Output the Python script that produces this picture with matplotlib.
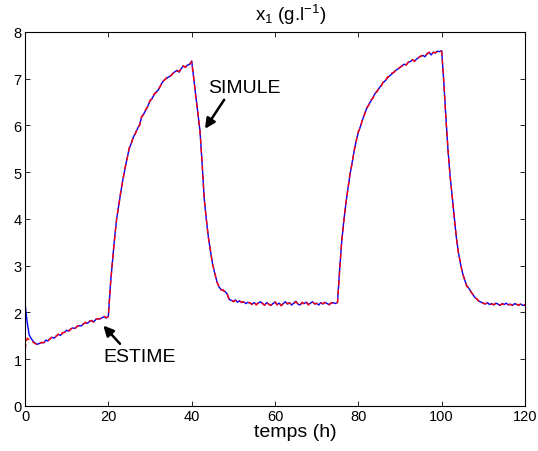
import numpy as np
import matplotlib
matplotlib.use("Agg")
import matplotlib.pyplot as plt

plt.rcParams['font.family'] = ['Liberation Sans', 'DejaVu Sans']
plt.rcParams['mathtext.fontset'] = 'custom'
plt.rcParams['mathtext.rm'] = 'Liberation Sans'
plt.rcParams['mathtext.it'] = 'Liberation Sans:italic'

# time grid (h), one sample every half hour
t_start, t_end, t_step = 0.0, 120.0, 0.5

# simulated x1 (blue, solid)
x1_simule = [
    2.20, 1.80, 1.52, 1.44, 1.38, 1.34, 1.32, 1.34, 1.36, 1.35,
    1.41, 1.39, 1.44, 1.47, 1.45, 1.50, 1.53, 1.51, 1.56, 1.58,
    1.62, 1.60, 1.65, 1.67, 1.66, 1.70, 1.72, 1.71, 1.76, 1.78,
    1.77, 1.81, 1.83, 1.80, 1.85, 1.87, 1.86, 1.89, 1.91, 1.88,
    1.92, 2.60, 3.10, 3.60, 4.00, 4.30, 4.58, 4.85, 5.08, 5.30,
    5.50, 5.62, 5.75, 5.84, 5.93, 6.02, 6.18, 6.25, 6.33, 6.42,
    6.52, 6.58, 6.66, 6.72, 6.76, 6.85, 6.93, 6.98, 7.01, 7.04,
    7.06, 7.12, 7.15, 7.18, 7.14, 7.22, 7.27, 7.25, 7.29, 7.31,
    7.38, 7.00, 6.62, 6.25, 5.88, 5.20, 4.45, 4.00, 3.62, 3.32,
    3.05, 2.85, 2.68, 2.55, 2.50, 2.47, 2.45, 2.40, 2.28, 2.26,
    2.24, 2.27, 2.22, 2.25, 2.21, 2.23, 2.19, 2.22, 2.20, 2.18,
    2.21, 2.17, 2.20, 2.23, 2.19, 2.16, 2.21, 2.18, 2.15, 2.19,
    2.22, 2.17, 2.20, 2.15, 2.19, 2.23, 2.18, 2.21, 2.16, 2.20,
    2.24, 2.18, 2.16, 2.21, 2.19, 2.22, 2.17, 2.20, 2.23, 2.18,
    2.20, 2.16, 2.21, 2.18, 2.22, 2.19, 2.17, 2.20, 2.21, 2.19,
    2.22, 2.90, 3.50, 3.95, 4.32, 4.65, 4.95, 5.20, 5.45, 5.68,
    5.85, 5.98, 6.12, 6.25, 6.36, 6.45, 6.52, 6.60, 6.68, 6.74,
    6.80, 6.86, 6.92, 6.96, 7.02, 7.06, 7.10, 7.14, 7.18, 7.21,
    7.24, 7.28, 7.31, 7.30, 7.35, 7.37, 7.40, 7.38, 7.42, 7.46,
    7.48, 7.50, 7.47, 7.54, 7.56, 7.51, 7.57, 7.55, 7.59, 7.58,
    7.60, 6.95, 6.20, 5.50, 4.95, 4.50, 4.05, 3.62, 3.30, 3.05,
    2.85, 2.70, 2.58, 2.52, 2.45, 2.38, 2.32, 2.28, 2.24, 2.22,
    2.20, 2.18, 2.21, 2.17, 2.19, 2.16, 2.20, 2.18, 2.15, 2.19,
    2.17, 2.20, 2.16, 2.18, 2.15, 2.19, 2.17, 2.16, 2.18, 2.15,
    2.16,
]

# estimated x1 (red, dashed)
x1_estime = [
    1.20, 1.45, 1.42, 1.40, 1.36, 1.33, 1.31, 1.35, 1.35, 1.36,
    1.40, 1.40, 1.43, 1.48, 1.46, 1.49, 1.54, 1.50, 1.57, 1.57,
    1.63, 1.61, 1.64, 1.68, 1.65, 1.71, 1.71, 1.72, 1.75, 1.79,
    1.76, 1.82, 1.82, 1.79, 1.86, 1.86, 1.87, 1.88, 1.92, 1.89,
    1.91, 2.58, 3.12, 3.58, 4.02, 4.28, 4.60, 4.83, 5.10, 5.28,
    5.52, 5.60, 5.77, 5.82, 5.95, 6.00, 6.20, 6.23, 6.35, 6.40,
    6.54, 6.57, 6.68, 6.70, 6.78, 6.84, 6.95, 6.97, 7.03, 7.03,
    7.07, 7.11, 7.17, 7.16, 7.16, 7.21, 7.28, 7.24, 7.30, 7.30,
    7.37, 7.01, 6.60, 6.27, 5.86, 5.22, 4.43, 4.02, 3.60, 3.34,
    3.03, 2.87, 2.66, 2.57, 2.48, 2.49, 2.43, 2.41, 2.27, 2.27,
    2.23, 2.26, 2.23, 2.24, 2.22, 2.22, 2.20, 2.21, 2.21, 2.17,
    2.22, 2.16, 2.21, 2.22, 2.20, 2.15, 2.22, 2.17, 2.16, 2.18,
    2.23, 2.16, 2.21, 2.14, 2.20, 2.22, 2.19, 2.20, 2.17, 2.19,
    2.23, 2.19, 2.15, 2.22, 2.18, 2.23, 2.16, 2.21, 2.22, 2.19,
    2.19, 2.17, 2.20, 2.19, 2.21, 2.20, 2.16, 2.21, 2.20, 2.20,
    2.21, 2.88, 3.52, 3.93, 4.34, 4.63, 4.97, 5.18, 5.47, 5.66,
    5.87, 5.96, 6.14, 6.23, 6.38, 6.43, 6.54, 6.58, 6.70, 6.72,
    6.82, 6.84, 6.94, 6.95, 7.04, 7.05, 7.12, 7.13, 7.19, 7.20,
    7.25, 7.27, 7.32, 7.29, 7.36, 7.36, 7.41, 7.37, 7.43, 7.45,
    7.49, 7.49, 7.48, 7.53, 7.57, 7.52, 7.56, 7.56, 7.58, 7.59,
    7.59, 6.97, 6.18, 5.52, 4.93, 4.52, 4.03, 3.64, 3.28, 3.07,
    2.83, 2.72, 2.56, 2.53, 2.44, 2.39, 2.31, 2.29, 2.23, 2.23,
    2.19, 2.19, 2.20, 2.18, 2.18, 2.17, 2.19, 2.19, 2.16, 2.18,
    2.18, 2.19, 2.17, 2.17, 2.16, 2.18, 2.18, 2.15, 2.19, 2.16,
    2.17,
]

x_ticks = [0, 20, 40, 60, 80, 100, 120]
y_ticks = [0, 1, 2, 3, 4, 5, 6, 7, 8]

t = np.arange(t_start, t_end + t_step / 2, t_step)

fig = plt.figure(figsize=(5.38, 4.52), dpi=100)
ax = fig.add_axes([0.0465, 0.0996, 0.9293, 0.8274])

ax.plot(t, x1_simule, color=(0, 0, 1), lw=1.0)
ax.plot(t, x1_estime, color=(1, 0, 0), lw=1.0, linestyle=(0, (4, 2.5)))

ax.set_xlim(0, 120)
ax.set_ylim(0, 8)
ax.set_xticks(x_ticks)
ax.set_yticks(y_ticks)
ax.tick_params(direction='in', top=True, right=True, length=3.6, width=0.6,
               labelsize=10.5)
ax.tick_params(axis='x', pad=2.5)
ax.tick_params(axis='y', pad=2.5)
for s in ax.spines.values():
    s.set_linewidth(0.8)

ax.set_xlabel('temps (h)', fontsize=14, va='baseline')
ax.xaxis.set_label_coords(0.54, -0.079)
ax.text(0.531, 1.033, r'x$_1$ (g.l$^{-1}$)', transform=ax.transAxes,
        ha='center', va='baseline', fontsize=13.5)

arrow = dict(arrowstyle='-|>', color='k', lw=1.8, mutation_scale=15,
             shrinkA=0, shrinkB=0)
ax.annotate('', xy=(43.2, 5.93), xytext=(47.8, 6.55), arrowprops=arrow)
ax.text(43.9, 6.82, 'SIMULE', fontsize=14, ha='left', va='center')
ax.annotate('', xy=(18.8, 1.72), xytext=(22.8, 1.33), arrowprops=arrow)
ax.text(18.7, 1.05, 'ESTIME', fontsize=14, ha='left', va='center')

fig.savefig('out.png', dpi=100)
